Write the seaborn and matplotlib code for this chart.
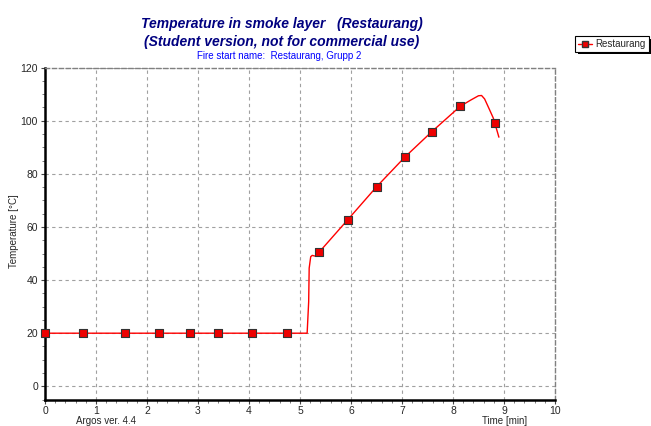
import numpy as np
import pandas as pd
import matplotlib
matplotlib.use("Agg")
import matplotlib.pyplot as plt
from matplotlib.lines import Line2D
from matplotlib.patches import Rectangle
from matplotlib.ticker import MultipleLocator
import seaborn as sns

sns.set_style("white")
plt.rcParams['font.family'] = ['Liberation Sans', 'DejaVu Sans']

# curve: temperature in smoke layer
time_line = [0, 5.14, 5.17, 5.18, 5.21, 5.24, 5.30, 5.37, 5.94, 6.50, 7.05, 7.58, 8.14,
             8.35, 8.50, 8.56, 8.62, 8.72, 8.79, 8.82, 8.90]
temp_line = [20, 20, 31.8, 44.5, 48.8, 49.3, 49.0, 50.4, 62.8, 75.1, 86.2, 95.8, 105.4,
             107.8, 109.4, 109.5, 108.2, 104.0, 101.0, 99.1, 93.8]

# marker points
time_mark = [0, 0.74, 1.56, 2.24, 2.84, 3.39, 4.06, 4.75, 5.37, 5.94, 6.50, 7.05, 7.58, 8.14, 8.82]
temp_mark = [20, 20, 20, 20, 20, 20, 20, 20, 50.4, 62.8, 75.1, 86.2, 95.8, 105.4, 99.1]

line_df = pd.DataFrame({'time': time_line, 'temp': temp_line})
mark_df = pd.DataFrame({'time': time_mark, 'temp': temp_mark})

fig = plt.figure(figsize=(6.51, 4.26), dpi=100)
ax = fig.add_axes([45/651, 1 - 399.6/426, 510/651, 332/426])

sns.lineplot(data=line_df, x='time', y='temp', ax=ax, color='#ff0000', linewidth=1.0,
             sort=False, estimator=None, legend=False)
sns.scatterplot(data=mark_df, x='time', y='temp', ax=ax, marker='s', s=26,
                color='#ee0000', edgecolor='#333333', linewidth=0.8, legend=False, zorder=5,
                clip_on=False)

ax.set_xlim(0, 10)
ax.set_ylim(-5, 120)
ax.set_xticks(range(0, 11))
ax.set_yticks(range(0, 121, 20))
ax.xaxis.set_minor_locator(MultipleLocator(0.2))
ax.yaxis.set_minor_locator(MultipleLocator(5))
ax.tick_params(which='major', direction='out', length=3, width=0.8, labelsize=7.5,
               color='#444444', left=True, bottom=True)
ax.tick_params(axis='x', which='major', pad=1.5)
ax.tick_params(axis='y', which='major', pad=2)
ax.tick_params(which='minor', direction='out', length=2, width=0.6, color='#666666',
               left=True, bottom=True)
ax.grid(True, which='major', color='#a0a0a0', linestyle=(0, (3, 3)), linewidth=0.8)
ax.set_xlabel('')
ax.set_ylabel('')

for side in ['left', 'bottom']:
    ax.spines[side].set_linewidth(1.8)
    ax.spines[side].set_color('black')
for side in ['top', 'right']:
    ax.spines[side].set_linestyle((0, (3, 2)))
    ax.spines[side].set_color('#808080')
    ax.spines[side].set_linewidth(1.0)

# titles and labels
fig.text(282/651, 1 - 24/426, 'Temperature in smoke layer   (Restaurang)', ha='center', va='center',
         fontsize=10, fontweight='bold', fontstyle='italic', color='#000080')
fig.text(282/651, 1 - 42/426, '(Student version, not for commercial use)', ha='center', va='center',
         fontsize=10, fontweight='bold', fontstyle='italic', color='#000080')
fig.text(279/651, 1 - 56/426, 'Fire start name:  Restaurang, Grupp 2', ha='center', va='center',
         fontsize=7, color='#0000ff')
fig.text(14/651, 1 - 231/426, 'Temperature [°C]', rotation=90, ha='center', va='center',
         fontsize=7)
fig.text(106/651, 1 - 421/426, 'Argos ver. 4.4', ha='center', va='center', fontsize=7)
fig.text(505/651, 1 - 421/426, 'Time [min]', ha='center', va='center', fontsize=7)

handle = Line2D([0], [0], color='#ff0000', linewidth=1.0, marker='s', markersize=5,
                markerfacecolor='#ee0000', markeredgecolor='#333333')
leg = fig.legend([handle], ['Restaurang'], loc='center', bbox_to_anchor=(612/651, 1 - 44/426),
                 fontsize=7, frameon=True, fancybox=False, edgecolor='black', facecolor='white',
                 framealpha=1.0, handlelength=1.4, handletextpad=0.4, borderpad=0.3,
                 borderaxespad=0)
leg.get_frame().set_linewidth(0.8)
leg.set_zorder(10)

# small drop shadow behind the legend box
fig.canvas.draw()
bb = leg.get_window_extent().transformed(fig.transFigure.inverted())
fig.patches.append(Rectangle((bb.x0 + 2.5/651, bb.y0 - 2.5/426), bb.width, bb.height,
                             transform=fig.transFigure, facecolor='black', edgecolor='none',
                             zorder=9))

fig.savefig('out.png', dpi=100)
